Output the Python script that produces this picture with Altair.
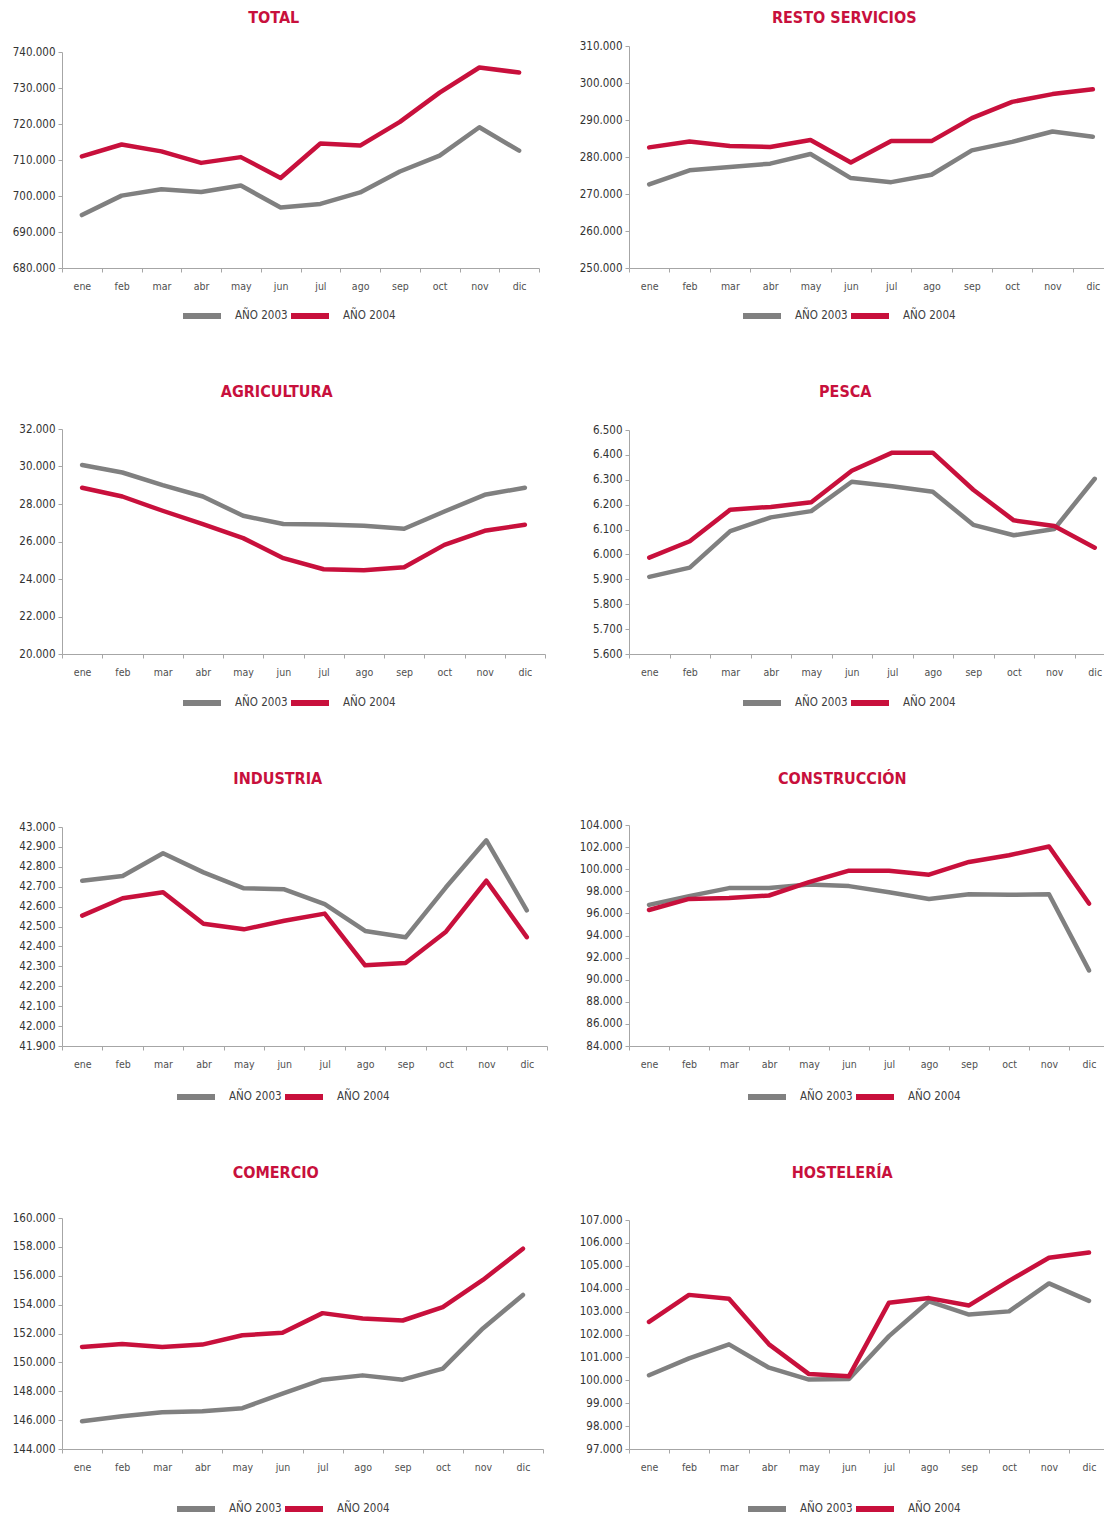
import altair as alt
import pandas as pd

MESES = ["ene", "feb", "mar", "abr", "may", "jun", "jul", "ago", "sep", "oct", "nov", "dic"]
SERIES = ["AÑO 2003", "AÑO 2004"]
COLORES = ["#808080", "#C8103C"]
ROJO = "#C8103C"
FONT = "Liberation Sans Narrow, DejaVu Sans Condensed, Arial Narrow, sans-serif"

TOTAL_2003 = [694700, 700100, 701900, 701100, 702900, 696800, 697800, 701000, 706800, 711200, 719100, 712600]
TOTAL_2004 = [711000, 714300, 712400, 709200, 710800, 705000, 714600, 714000, 720600, 728700, 735700, 734300]
TOTAL_TICKS = [680000, 690000, 700000, 710000, 720000, 730000, 740000]

RESTO_2003 = [272600, 276400, 277300, 278200, 280800, 274300, 273200, 275200, 281800, 284100, 286900, 285500]
RESTO_2004 = [282600, 284200, 283000, 282700, 284600, 278500, 284300, 284300, 290500, 294900, 297000, 298300]
RESTO_TICKS = [250000, 260000, 270000, 280000, 290000, 300000, 310000]

AGRI_2003 = [30080, 29680, 29010, 28400, 27370, 26930, 26910, 26840, 26680, 27600, 28490, 28870]
AGRI_2004 = [28870, 28400, 27640, 26930, 26180, 25110, 24520, 24470, 24630, 25820, 26570, 26890]
AGRI_TICKS = [20000, 22000, 24000, 26000, 28000, 30000, 32000]

PESCA_2003 = [5910, 5947, 6094, 6149, 6174, 6292, 6274, 6252, 6119, 6077, 6102, 6304]
PESCA_2004 = [5987, 6053, 6180, 6191, 6210, 6336, 6409, 6409, 6260, 6137, 6114, 6027]
PESCA_TICKS = [5600, 5700, 5800, 5900, 6000, 6100, 6200, 6300, 6400, 6500]

IND_2003 = [42730, 42754, 42868, 42772, 42692, 42687, 42613, 42478, 42446, 42697, 42933, 42581]
IND_2004 = [42555, 42642, 42672, 42514, 42486, 42529, 42565, 42305, 42317, 42474, 42730, 42447]
IND_TICKS = [41900, 42000, 42100, 42200, 42300, 42400, 42500, 42600, 42700, 42800, 42900, 43000]

CONS_2003 = [96770, 97560, 98290, 98290, 98620, 98470, 97920, 97310, 97740, 97680, 97740, 90840]
CONS_2004 = [96310, 97310, 97400, 97620, 98830, 99870, 99870, 99500, 100660, 101260, 102050, 96890]
CONS_TICKS = [84000, 86000, 88000, 90000, 92000, 94000, 96000, 98000, 100000, 102000, 104000]

COM_2003 = [145920, 146270, 146550, 146620, 146830, 147830, 148800, 149100, 148800, 149570, 152350, 154670]
COM_2004 = [151070, 151280, 151070, 151230, 151880, 152050, 153410, 153040, 152900, 153830, 155710, 157870]
COM_TICKS = [144000, 146000, 148000, 150000, 152000, 154000, 156000, 158000, 160000]

HOST_2003 = [100220, 100960, 101570, 100550, 100030, 100060, 101930, 103450, 102870, 103010, 104230, 103470]
HOST_2004 = [102550, 103730, 103560, 101570, 100270, 100180, 103390, 103590, 103270, 104340, 105350, 105580]
HOST_TICKS = [97000, 98000, 99000, 100000, 101000, 102000, 103000, 104000, 105000, 106000, 107000]

PANELES = [
    dict(titulo="TOTAL", s03=TOTAL_2003, s04=TOTAL_2004, ticks=TOTAL_TICKS),
    dict(titulo="RESTO SERVICIOS", s03=RESTO_2003, s04=RESTO_2004, ticks=RESTO_TICKS),
    dict(titulo="AGRICULTURA", s03=AGRI_2003, s04=AGRI_2004, ticks=AGRI_TICKS),
    dict(titulo="PESCA", s03=PESCA_2003, s04=PESCA_2004, ticks=PESCA_TICKS),
    dict(titulo="INDUSTRIA", s03=IND_2003, s04=IND_2004, ticks=IND_TICKS),
    dict(titulo="CONSTRUCCIÓN", s03=CONS_2003, s04=CONS_2004, ticks=CONS_TICKS),
    dict(titulo="COMERCIO", s03=COM_2003, s04=COM_2004, ticks=COM_TICKS),
    dict(titulo="HOSTELERÍA", s03=HOST_2003, s04=HOST_2004, ticks=HOST_TICKS),
]

# layout per panel: width, group height, y-range top inset, title offset, legend x, legend y
LAYOUT = [
    (477, 222, 6, 20.5, 118, 248),
    (484, 222, 0, 14.5, 111, 248),
    (483, 225, 0, 23.5, 118, 252),
    (486, 225, 1, 24.5, 111, 252),
    (485, 221, 2, 34.5, 112, 250),
    (480, 221, 0, 32.5, 116, 250),
    (481, 231, 0, 31.5, 112, 269),
    (480, 231, 2, 33.5, 116, 269),
]

LABEL_EXPR = "replace(format(datum.value, ','), ',', '.')"


def panel(p, lay):
    w, h, inset, toff, lx, ly = lay
    rows = []
    for serie, vals in zip(SERIES, [p["s03"], p["s04"]]):
        for m, v in zip(MESES, vals):
            rows.append({"mes": m, "serie": serie, "valor": v})
    df = pd.DataFrame(rows)
    return (
        alt.Chart(df)
        .mark_line(strokeWidth=4.5, strokeCap="round", strokeJoin="round")
        .encode(
            x=alt.X(
                "mes:N",
                sort=MESES,
                bandPosition=0.5,
                scale=alt.Scale(type="band", paddingInner=0, paddingOuter=0),
                axis=alt.Axis(
                    title=None, labelAngle=0, tickBand="extent", labelPadding=9,
                    labelFontSize=10.5, tickSize=4, labelColor="#505050",
                ),
            ),
            y=alt.Y(
                "valor:Q",
                scale=alt.Scale(domain=[p["ticks"][0], p["ticks"][-1]], nice=False,
                                zero=False, range=[h, inset]),
                axis=alt.Axis(
                    title=None, values=p["ticks"], labelExpr=LABEL_EXPR, grid=False,
                    tickSize=4, labelPadding=3, minExtent=54, maxExtent=54,
                    labelFontSize=11.5, labelColor="#333333",
                ),
            ),
            color=alt.Color(
                "serie:N",
                scale=alt.Scale(domain=SERIES, range=COLORES),
                legend=alt.Legend(
                    title=None, orient="none", legendX=lx, legendY=ly,
                    direction="horizontal", symbolType="stroke", symbolSize=1444,
                    symbolStrokeWidth=6, labelFontSize=11.5, labelOffset=11,
                    columnPadding=-10, padding=0, labelColor="#404040", labelFont=FONT,
                ),
            ),
        )
        .properties(
            width=w, height=h,
            title=alt.TitleParams(
                p["titulo"], offset=toff, fontSize=16, fontWeight="bold",
                color=ROJO, font=FONT, anchor="middle", frame="bounds",
            ),
        )
    )


charts = [panel(p, lay) for p, lay in zip(PANELES, LAYOUT)]

chart = (
    alt.concat(*charts, columns=2, spacing={"row": 55, "column": 27})
    .resolve_scale(x="independent", y="independent", color="independent")
    .resolve_axis(x="independent", y="independent")
    .resolve_legend(color="independent")
    .configure_view(strokeWidth=0)
    .configure_axis(
        domainColor="#A6A6A6", tickColor="#A6A6A6",
        labelFont=FONT, domainWidth=1,
    )
    .properties(background="white",
                padding={"top": 1, "left": 0, "right": -12, "bottom": 0})
)

chart.save("out.html", embed_options={"renderer": "svg", "actions": False})
